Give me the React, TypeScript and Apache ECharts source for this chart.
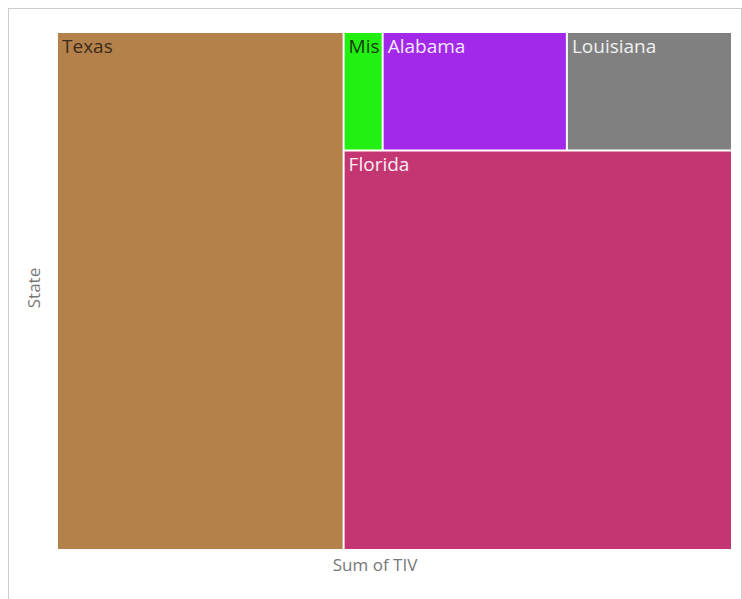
import React, { useEffect, useRef } from "react";
import * as echarts from "echarts";

const states = ["Texas", "Mississippi", "Alabama", "Louisiana", "Florida"];
const tivValues = [147700, 4600, 21700, 19450, 154400];
const stateColors = ["#b5814a", "#22f012", "#a229ea", "#808080", "#c43671"];
const labelColors = ["#3a2c1c", "#1a3a12", "#f4e8fb", "#f0f0f0", "#fbeef4"];

export default function App() {
  const ref = useRef<HTMLDivElement>(null);
  useEffect(() => {
    if (!ref.current) return;
    const chart = echarts.init(ref.current, null, { renderer: "svg" });
    const data = states.map((s, i) => ({
      name: s,
      value: tivValues[i],
      itemStyle: { color: stateColors[i] },
      label: { color: labelColors[i] },
    }));
    chart.setOption({
      animation: false,
      graphic: [
        {
          type: "text",
          x: 33,
          y: 288,
          rotation: Math.PI / 2,
          style: {
            text: "State",
            fill: "#777",
            font: "17px 'Open Sans'",
            textAlign: "center",
            textVerticalAlign: "middle",
          },
        },
        {
          type: "text",
          x: 375,
          y: 564,
          style: {
            text: "Sum of TIV",
            fill: "#777",
            font: "17px 'Open Sans'",
            textAlign: "center",
            textVerticalAlign: "middle",
          },
        },
      ],
      series: [
        {
          type: "treemap",
          left: 58,
          top: 33,
          width: 673,
          height: 516,
          roam: false,
          nodeClick: false,
          sort: false,
          breadcrumb: { show: false },
          itemStyle: { gapWidth: 2, borderWidth: 0, borderColor: "#fff" },
          label: {
            show: true,
            position: [4, -2],
            padding: [5, 0, 5, 0],
            fontSize: 19,
            fontFamily: "Open Sans",
            overflow: "truncate",
            ellipsis: "",
          },
          data,
        },
      ],
    });
    return () => chart.dispose();
  }, []);
  return (
    <div>
      <div
        style={{
          position: "absolute",
          left: 8,
          top: 8,
          width: 732,
          height: 620,
          borderLeft: "1px solid #ccc",
          borderTop: "1px solid #ccc",
          borderRight: "1px solid #ccc",
        }}
      />
      <div
        ref={ref}
        style={{ position: "absolute", left: 0, top: 0, width: 742, height: 599 }}
      />
    </div>
  );
}
